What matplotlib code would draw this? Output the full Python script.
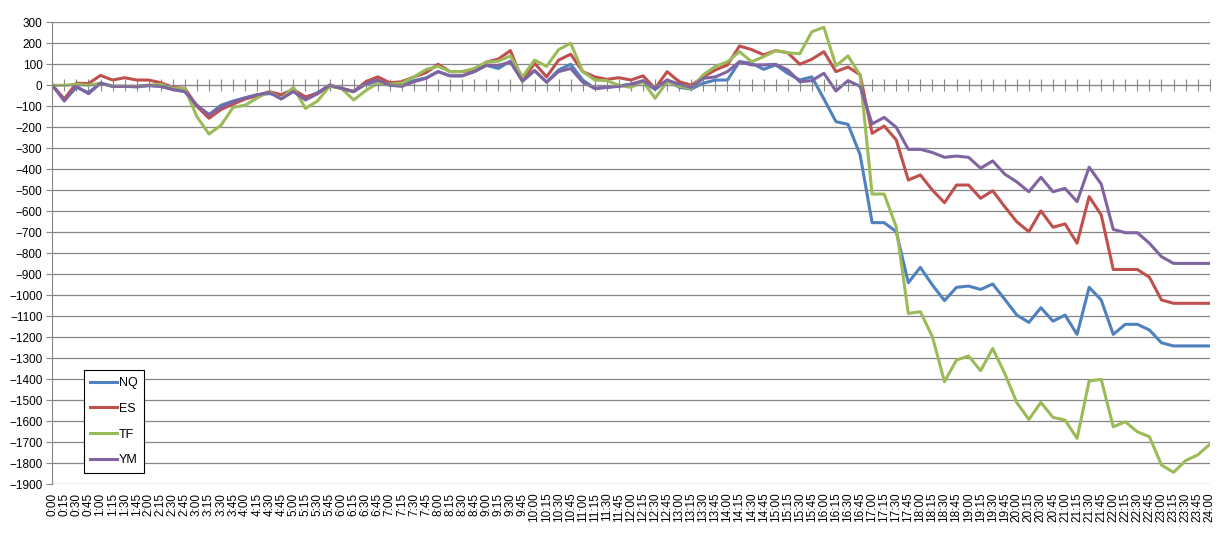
from matplotlib import pyplot as plt

plt.rcParams['font.family'] = ['Liberation Sans', 'DejaVu Sans']

# time labels 0:00 .. 24:00 every 15 min
times = ["{}:{:02d}".format(i // 4, (i % 4) * 15) for i in range(97)]

nq = [0, -70, -10, -35, 10, -5, -5, -8, -2, -5, -20, -30, -100, -140, -95, -75,
      -60, -45, -40, -45, -20, -60, -35, 0, -15, -30, 5, 20, 0, 5, 22, 35,
      65, 45, 45, 65, 95, 80, 115, 20, 70, 15, 73, 100, 25, -15, -10, -3,
      5, 17, -20, 25, -10, -18, 10, 25, 25, 112, 105, 76, 97, 57, 25, 40,
      -65, -173, -186, -330, -654, -654, -697, -940, -867, -951, -1025, -962, -956, -972, -946, -1019,
      -1094, -1129, -1059, -1123, -1094, -1186, -962, -1022, -1186, -1138, -1138, -1165, -1226, -1241, -1241, -1241,
      -1241]
es = [0, -65, 10, 8, 47, 25, 36, 25, 25, 12, -10, -15, -100, -157, -115, -90,
      -65, -50, -30, -45, -22, -55, -40, 0, -15, -30, 17, 40, 12, 17, 40, 60,
      100, 65, 65, 75, 110, 125, 165, 20, 105, 40, 120, 148, 65, 40, 28, 36,
      25, 45, -15, 65, 17, 0, 40, 73, 97, 187, 170, 145, 165, 155, 100, 124,
      160, 65, 87, 50, -229, -194, -260, -451, -427, -499, -559, -475, -475, -538, -502, -578,
      -650, -697, -598, -676, -660, -752, -530, -617, -877, -877, -877, -914, -1022, -1038, -1038, -1038,
      -1038]
tf = [0, 0, 5, 0, 10, -5, -5, -5, 0, 5, -15, -15, -150, -232, -190, -105,
      -95, -60, -30, -65, -10, -110, -75, -5, -15, -70, -25, 10, 5, 10, 40, 75,
      90, 65, 65, 80, 110, 115, 140, 40, 120, 90, 170, 200, 65, 25, 22, 0,
      -10, 17, -62, 17, -5, -15, 50, 90, 112, 160, 112, 136, 165, 155, 150, 255,
      276, 92, 140, 48, -518, -518, -674, -1086, -1078, -1197, -1411, -1308, -1289, -1359, -1253, -1372,
      -1511, -1591, -1510, -1581, -1594, -1681, -1408, -1400, -1626, -1602, -1650, -1673, -1808, -1843, -1787, -1760,
      -1710]
ym = [0, -75, -5, -40, 10, -5, -5, -5, 0, -5, -20, -30, -95, -140, -105, -80,
      -60, -45, -35, -65, -30, -70, -40, 0, -15, -30, 8, 25, 0, -5, 17, 33,
      65, 45, 45, 65, 95, 95, 110, 20, 70, 15, 65, 80, 15, -15, -10, -5,
      5, 22, -15, 25, 5, -10, 33, 40, 65, 112, 97, 97, 100, 73, 17, 22,
      57, -27, 22, -5, -184, -153, -200, -305, -305, -320, -343, -337, -343, -395, -360, -423,
      -460, -507, -438, -507, -491, -554, -390, -470, -686, -702, -702, -752, -816, -848, -848, -848,
      -848]

names = ["NQ", "ES", "TF", "YM"]
colors = ["#4F81BD", "#C0504D", "#9BBB59", "#8064A2"]
series = [nq, es, tf, ym]

fig = plt.figure(figsize=(12.3, 5.43), dpi=100)
ax = fig.add_axes([0.0425, 0.108, 0.941, 0.851])

x = list(range(len(times)))
for name, c, s in zip(names, colors, series):
    ax.plot(x, s, color=c, lw=2.2, label=name, solid_joinstyle='round')

ax.set_xlim(0, 96)
ax.set_ylim(-1900, 300)
ax.set_yticks(range(-1900, 301, 100))
ax.tick_params(axis='y', labelsize=8.5, length=4, color='#868686', pad=3)
ax.grid(axis='y', color='#868686', lw=0.9)
ax.set_axisbelow(True)

# x axis line crosses at 0, labels stay at the bottom
ax.spines['bottom'].set_position(('data', 0))
ax.spines['bottom'].set_color('#868686')
ax.spines['left'].set_color('#868686')
ax.spines['top'].set_visible(False)
ax.spines['right'].set_visible(False)
ax.set_xticks(x)
ax.tick_params(axis='x', direction='inout', length=8, color='#868686', labelbottom=False)

sec = ax.secondary_xaxis(0.0)
sec.set_xticks(x, times, rotation=90, fontsize=8.5)
sec.tick_params(length=0, pad=6)
sec.spines['bottom'].set_visible(False)

leg = ax.legend(loc='upper left', bbox_to_anchor=(0.027, 0.247), fontsize=9,
                frameon=True, fancybox=False, edgecolor='black', framealpha=1,
                handlelength=2.15, handletextpad=0.1, labelspacing=1.1,
                borderpad=0.55, borderaxespad=0)
leg.get_frame().set_linewidth(0.8)

plt.savefig("out.png", dpi=100)
